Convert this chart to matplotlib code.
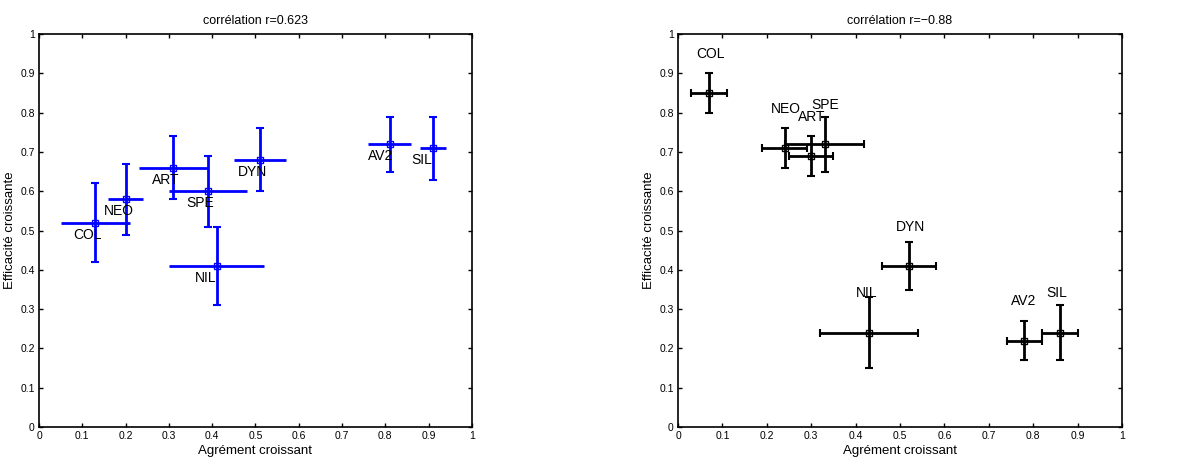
import matplotlib
matplotlib.use("Agg")
import matplotlib.pyplot as plt
import numpy as np

plt.rcParams['font.family'] = ['Liberation Sans', 'DejaVu Sans']

names = ["COL", "NEO", "ART", "SPE", "NIL", "DYN", "AV2", "SIL"]

# left panel (blue)
x1 = [0.13, 0.20, 0.31, 0.39, 0.41, 0.51, 0.81, 0.91]
y1 = [0.52, 0.58, 0.66, 0.60, 0.41, 0.68, 0.72, 0.71]
xe1 = [0.08, 0.04, 0.08, 0.09, 0.11, 0.06, 0.05, 0.03]
ye1 = [0.10, 0.09, 0.08, 0.09, 0.10, 0.08, 0.07, 0.08]
title1 = "corrélation r=0.623"

# right panel (black)
x2 = [0.07, 0.24, 0.30, 0.33, 0.43, 0.52, 0.78, 0.86]
y2 = [0.85, 0.71, 0.69, 0.72, 0.24, 0.41, 0.22, 0.24]
xe2 = [0.04, 0.05, 0.05, 0.09, 0.11, 0.06, 0.04, 0.04]
ye2 = [0.05, 0.05, 0.05, 0.07, 0.09, 0.06, 0.05, 0.07]
title2 = "corrélation r=\u22120.88"

ticks = np.arange(0, 1.01, 0.1)
ticklabels = ["0", "0.1", "0.2", "0.3", "0.4", "0.5", "0.6", "0.7", "0.8", "0.9", "1"]

fig = plt.figure(figsize=(11.86, 4.66), dpi=100)
ax1 = fig.add_axes([0.0329, 0.0837, 0.365, 0.843])
ax2 = fig.add_axes([0.5717, 0.0837, 0.3743, 0.843])


def style(ax, title):
    ax.set_xlim(0, 1)
    ax.set_ylim(0, 1)
    ax.set_xticks(ticks)
    ax.set_yticks(ticks)
    ax.set_xticklabels(ticklabels)
    ax.set_yticklabels(ticklabels)
    ax.tick_params(direction="in", top=True, right=True, length=3, width=1,
                   labelsize=7.5, pad=3)
    for s in ax.spines.values():
        s.set_linewidth(1.2)
    ax.set_title(title, fontsize=9, pad=7)
    ax.set_xlabel("Agrément croissant", fontsize=9.5, labelpad=3)
    ax.set_ylabel("Efficacité croissante", fontsize=9.5, labelpad=3)


# left: vertical bars with caps, horizontal bars plain
ax1.errorbar(x1, y1, yerr=ye1, fmt="none", ecolor="blue", elinewidth=2,
             capsize=3, capthick=1.5)
ax1.errorbar(x1, y1, xerr=xe1, fmt="none", ecolor="blue", elinewidth=2,
             capsize=0)
ax1.plot(x1, y1, "s", mfc="none", mec="blue", ms=4.5, mew=1)
for n, x, y in zip(names, x1, y1):
    ax1.text(x - 0.05, y - 0.03, n, fontsize=10, va="center", ha="left")
style(ax1, title1)

# right: both bars with caps
ax2.errorbar(x2, y2, xerr=xe2, yerr=ye2, fmt="none", ecolor="black",
             elinewidth=2, capsize=3, capthick=1.5)
ax2.plot(x2, y2, "s", mfc="none", mec="black", ms=4.5, mew=1)
for n, x, y in zip(names, x2, y2):
    ax2.text(x - 0.03, y + 0.1, n, fontsize=10, va="center", ha="left")
style(ax2, title2)

plt.savefig("out.png", dpi=100)
